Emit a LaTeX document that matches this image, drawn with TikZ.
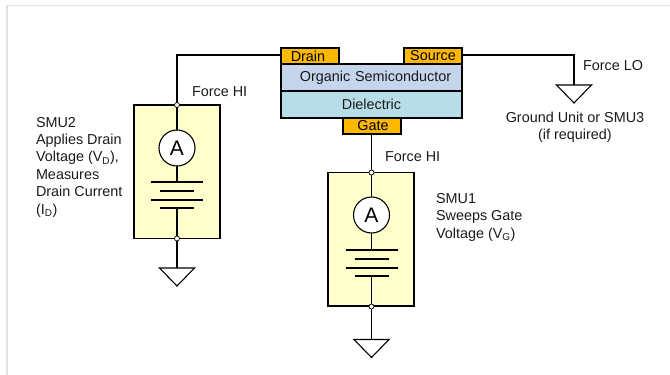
\documentclass[tikz,border=0pt]{standalone}
\usepackage{fontspec}
\setmainfont{Liberation Sans}
\definecolor{padc}{HTML}{FFB800}
\definecolor{semic}{HTML}{C5D5EC}
\definecolor{dielc}{HTML}{B7DDE8}
\definecolor{smuc}{HTML}{FFFFCC}
\definecolor{framec}{HTML}{E2E2E2}
\definecolor{txtc}{HTML}{1A1A1A}
\newcommand{\sbs}[1]{\textsubscript{#1}}
\tikzset{
  wire/.style={line width=1.1pt,draw=black},
  layer/.style={draw=black,line width=1.3pt,minimum width=181pt,minimum height=27pt,inner sep=0pt,outer sep=0pt,text=txtc,font=\fontsize{14.4}{16}\selectfont},
  pad/.style={draw=black,line width=1.3pt,fill=padc,minimum width=58pt,minimum height=16pt,inner sep=0pt,outer sep=0pt,text=black,font=\fontsize{14.4}{16}\selectfont},
  smu/.style={draw=black,line width=1.1pt,fill=smuc,minimum width=86pt,minimum height=133.5pt,inner sep=0pt,outer sep=0pt},
  meter/.style={circle,draw=black,line width=1.1pt,fill=white,minimum size=36pt,inner sep=0pt,outer sep=0pt,font=\fontsize{21}{23}\selectfont},
  term/.style={circle,draw=black,line width=.7pt,fill=white,minimum size=5pt,inner sep=0pt,outer sep=0pt},
  gnd/.style={draw=black,line width=1.1pt,fill=white,line join=miter},
  lab/.style={inner sep=0pt,outer sep=0pt,text=txtc,align=left,font=\fontsize{14.4}{17.4}\selectfont},
  plate/.style={line width=1.1pt,draw=black}
}
\newcommand{\ground}[2]{\draw[gnd] (#1-17.5,#2) -- (#1+17.5,#2) -- (#1,#2+18) -- cycle;}
\begin{document}
\begin{tikzpicture}[x=1pt,y=-1pt]
\useasboundingbox (0,0) rectangle (670,375);
\draw[framec,line width=1.2pt] (7,375) -- (7,5.5) -- (670,5.5);
% device
\node[layer,fill=semic,anchor=north west,text width=181pt,align=center] (semi) at (281,64) {\hspace*{8pt}Organic Semiconductor};
\node[layer,fill=dielc,anchor=north west] (diel) at (281,91) {Dielectric};
\node[pad,anchor=north west,text width=58pt,align=center] (drain) at (281,48) {\hspace*{-4pt}Drain};
\node[pad,anchor=north west] (source) at (404,48) {Source};
\node[pad,anchor=north west,text width=58pt,align=center] (gate) at (343,118) {\hspace*{2pt}Gate};
% SMU boxes
\node[smu,anchor=north west] (smub) at (134,105) {};
\node[smu,anchor=north west] (smua) at (328,172.5) {};
% SMU2 internals
\coordinate (b0) at (177,105);
\coordinate (b1) at (177,182);
\coordinate (b2) at (177,208);
\coordinate (b3) at (177,238.5);
\coordinate (bg) at (177,268);
\draw[wire] (drain.west |- 0,55) -| (b0);
\draw[wire] (b0) -- (b1);
\draw[wire] (b2) -- (b3) -- (bg);
\node[meter] (mb) at (177,148) {A};
\draw[plate] (151,182) -- (203,182) (160,191) -- (194,191) (151,200) -- (203,200) (160,208) -- (194,208);
\node[term] (tb0) at (b0) {};
\node[term] (tb1) at (b3) {};
\ground{177}{268}
% SMU1 internals
\coordinate (a0) at (371.5,172.5);
\coordinate (a1) at (371.5,250);
\coordinate (a2) at (371.5,276);
\coordinate (a3) at (371.5,306.5);
\coordinate (ag) at (371.5,339.5);
\draw[wire] (a0 |- gate.south) -- (a0) -- (a1);
\draw[wire] (a2) -- (a3) -- (ag);
\node[meter] (ma) at (371.5,215) {A};
\draw[plate] (345.5,250) -- (397.5,250) (354.5,259) -- (388.5,259) (345.5,268) -- (397.5,268) (354.5,276) -- (388.5,276);
\node[term] (ta0) at (a0) {};
\node[term] (ta1) at (a3) {};
\ground{371.5}{339.5}
% source
\coordinate (sg) at (574,85);
\draw[wire] (source.east |- 0,55) -| (sg);
\ground{574}{85}
% labels
\node[lab,anchor=west] (l1) at (192,92) {Force HI};
\node[lab,anchor=west] (l2) at (385,157) {Force HI};
\node[lab,anchor=west] (l3) at (583,66) {Force LO};
\node[lab,align=center,anchor=north] (l4) at (575,112) {Ground Unit or SMU3\\(if required)};
\node[lab,anchor=north west] (l5) at (36,117) {SMU2\\Applies Drain\\Voltage (V\sbs{D}),\\Measures\\Drain Current\\(I\sbs{D})};
\node[lab,anchor=north west] (l6) at (436,193.5) {SMU1\\Sweeps Gate\\Voltage (V\sbs{G})};
\end{tikzpicture}
\end{document}
